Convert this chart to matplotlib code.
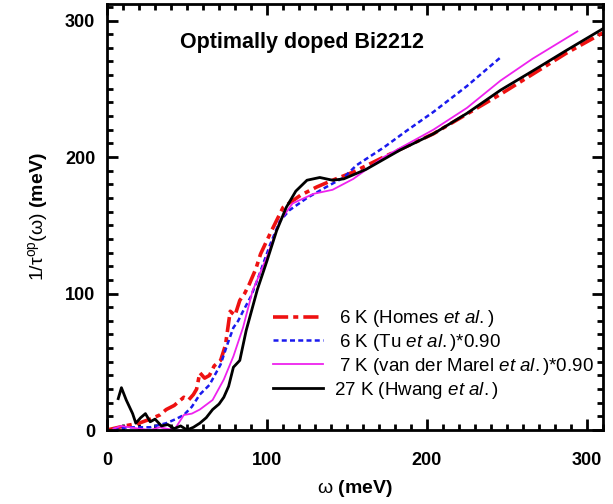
import matplotlib
matplotlib.use("Agg")
import matplotlib.pyplot as plt
from matplotlib.ticker import MultipleLocator

plt.rcParams["font.family"] = ["Liberation Sans", "DejaVu Sans"]
plt.rcParams["mathtext.fontset"] = "custom"
plt.rcParams["mathtext.rm"] = "Liberation Sans"
plt.rcParams["mathtext.it"] = "Liberation Sans:italic"
plt.rcParams["mathtext.bf"] = "Liberation Sans:bold"

# 6 K (Homes et al.)
homes_w = [0, 11, 20, 27, 33, 37, 42, 48, 51, 54, 56, 58, 61, 64, 67, 71, 74, 77, 80, 83,
           86, 89, 93, 96, 102, 110, 121, 131, 141, 154, 173, 204, 246, 287, 310]
homes_r = [0, 3, 5, 8, 11, 15, 18, 24, 22, 26, 30, 42, 38, 40, 47, 51, 62, 87, 84, 95,
           100, 107, 118, 129, 144, 163, 172, 178, 183, 189, 200, 217, 246, 276, 291]

# 6 K (Tu et al.)*0.90
tu_w = [4, 14, 27, 37, 43, 48, 53, 58, 64, 71, 75, 79, 82, 85, 90, 94, 102, 108, 114, 125,
        137, 148, 156, 173, 187, 204, 225, 246]
tu_r = [1, 2, 2, 5, 8, 11, 17, 26, 33, 48, 62, 75, 80, 87, 98, 110, 136, 153, 161, 170,
        178, 185, 194, 207, 219, 233, 252, 273]

# 7 K (van der Marel et al.)*0.90
marel_w = [4, 9, 14, 20, 27, 33, 37, 42, 48, 53, 58, 66, 73, 79, 85, 91, 100, 108, 116,
           129, 141, 154, 173, 204, 225, 246, 266, 294]
marel_r = [1, 3, 2, 1, 0, 2, 1, 0, 11, 12, 15, 22, 37, 54, 75, 102, 127, 153, 166,
           173, 176, 184, 200, 220, 236, 256, 272, 292]

# 27 K (Hwang et al.)
hwang_w = [7, 9, 12, 14, 16, 18, 21, 24, 27, 30, 34, 38, 42, 46, 50, 54, 58, 62, 66, 70,
           73, 76, 79, 83, 87, 94, 100, 106, 112, 118, 125, 133, 141, 148, 154, 162, 183,
           204, 225, 246, 266, 287, 310]
hwang_r = [23, 31, 22, 17, 12, 5, 9, 12, 6, 8, 3, 4, 1, 3, 0, 2, 5, 9, 15, 19,
           24, 32, 46, 51, 73, 103, 124, 146, 163, 175, 183, 185, 183, 184, 187, 191, 205,
           217, 232, 249, 263, 278, 294]

fig = plt.figure(figsize=(6.13, 5.04), dpi=100)
ax = fig.add_axes([0.1746, 0.1468, 0.809, 0.845])

ax.plot(homes_w, homes_r, color="#ee1111", lw=2.6, dashes=(4.2, 1.4, 1.4, 1.4),
        label=r" 6 K (Homes $\mathit{et\ al.}$)")
ax.plot(tu_w, tu_r, color="#1a1aee", lw=1.8, dashes=(2, 1.3),
        label=r" 6 K (Tu $\mathit{et\ al.}$)*0.90")
ax.plot(marel_w, marel_r, color="#ee22ee", lw=1.3,
        label=r" 7 K (van der Marel $\mathit{et\ al.}$)*0.90")
ax.plot(hwang_w, hwang_r, color="black", lw=2.0,
        label=r"27 K (Hwang $\mathit{et\ al.}$)")

ax.set_xlim(0, 310)
ax.set_ylim(0, 312)
ax.xaxis.set_major_locator(MultipleLocator(100))
ax.xaxis.set_minor_locator(MultipleLocator(10))
ax.yaxis.set_major_locator(MultipleLocator(100))
ax.yaxis.set_minor_locator(MultipleLocator(10))
ax.tick_params(which="both", direction="in", top=True, right=True, width=2)
ax.tick_params(which="major", length=8, labelsize=13)
ax.tick_params(which="minor", length=4)
ax.tick_params(axis="x", which="major", pad=16)
ax.tick_params(axis="y", which="major", pad=8.5)
for lab in ax.get_xticklabels() + ax.get_yticklabels():
    lab.set_fontweight("bold")
for s in ax.spines.values():
    s.set_linewidth(2)

ax.set_xlabel("$\\mathrm{ω}$ (meV)", fontsize=14, fontweight="bold", labelpad=6)
ax.set_ylabel("$\\mathrm{1/τ^{op}(ω)}$ (meV)", fontsize=14, fontweight="bold",
              labelpad=11)

ax.text(0.147, 0.911, "Optimally doped Bi2212", transform=ax.transAxes,
        fontsize=15.5, fontweight="bold", va="center")

ax.legend(loc="upper left", bbox_to_anchor=(0.335, 0.286), frameon=False,
          borderpad=0, borderaxespad=0, fontsize=13.5, handlelength=2.67,
          handletextpad=0.6, labelspacing=0.15)

plt.savefig("out.png", dpi=100)
plt.close(fig)
